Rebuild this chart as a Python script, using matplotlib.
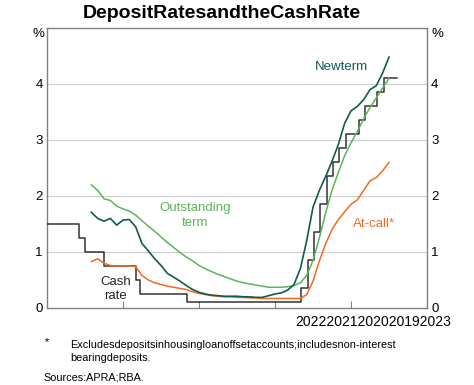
import matplotlib
matplotlib.use("Agg")
import matplotlib.pyplot as plt
import numpy as np

plt.rcParams['font.family'] = ['Liberation Sans', 'DejaVu Sans']

# ---- data ----
# monthly observations, end of month, Jul 2019 .. Jun 2023
months = [f"{y}-{m:02d}" for y in range(2019, 2024) for m in range(1, 13)
          if (y, m) >= (2019, 7) and (y, m) <= (2023, 6)]

outstanding_term = [2.20, 2.10, 1.95, 1.92, 1.82, 1.77,
                    1.73, 1.66, 1.56, 1.46, 1.37, 1.27, 1.17, 1.08, 0.99, 0.91, 0.84, 0.76,
                    0.70, 0.65, 0.60, 0.56, 0.52, 0.48, 0.45, 0.43, 0.41, 0.39, 0.37, 0.37,
                    0.37, 0.38, 0.40, 0.45, 0.58, 0.85, 1.25, 1.70, 2.10, 2.42, 2.72, 2.95,
                    3.15, 3.38, 3.58, 3.75, 3.93, 4.10]
new_term = [1.71, 1.60, 1.55, 1.60, 1.48, 1.57,
            1.58, 1.45, 1.15, 1.02, 0.88, 0.76, 0.62, 0.55, 0.48, 0.40, 0.33, 0.28,
            0.25, 0.23, 0.22, 0.21, 0.21, 0.21, 0.20, 0.20, 0.19, 0.19, 0.22, 0.25,
            0.27, 0.32, 0.42, 0.70, 1.20, 1.80, 2.10, 2.35, 2.62, 2.92, 3.30, 3.52,
            3.60, 3.72, 3.90, 3.97, 4.20, 4.48]
at_call = [0.83, 0.88, 0.80, 0.76, 0.75, 0.75,
           0.75, 0.74, 0.58, 0.50, 0.45, 0.42, 0.39, 0.37, 0.35, 0.33, 0.29, 0.26,
           0.24, 0.22, 0.21, 0.20, 0.20, 0.19, 0.19, 0.18, 0.18, 0.17, 0.17, 0.17,
           0.17, 0.17, 0.17, 0.17, 0.24, 0.48, 0.84, 1.15, 1.40, 1.58, 1.72, 1.85,
           1.93, 2.10, 2.27, 2.33, 2.45, 2.60]

# cash rate target changes (date, new rate)
cash_dates = ["2019-01-01", "2019-06-05", "2019-07-03", "2019-10-02", "2020-03-04",
              "2020-03-20", "2020-11-04", "2022-05-04", "2022-06-08", "2022-07-06",
              "2022-08-03", "2022-09-07", "2022-10-05", "2022-11-02", "2022-12-07",
              "2023-02-08", "2023-03-08", "2023-05-03", "2023-06-07", "2023-08-10"]
cash_rate = [1.50, 1.25, 1.00, 0.75, 0.50, 0.25, 0.10, 0.35, 0.85, 1.35,
             1.85, 2.35, 2.60, 2.85, 3.10, 3.35, 3.60, 3.85, 4.10, 4.10]

x_tick_years = [2020, 2021, 2022, 2023]
x_labels = ["2022", "2021", "2020", "2019", "2023"]
y_ticks = [0, 1, 2, 3, 4]

# ---- helpers ----
def month_end(s):
    y, m = s.split("-")
    return int(y) + int(m) / 12.0

def day_frac(s):
    y, m, d = s.split("-")
    return int(y) + (int(m) - 1) / 12.0 + (int(d) - 1) / 365.0

xm = np.array([month_end(s) for s in months])
xc = np.array([day_frac(s) for s in cash_dates])

# ---- figure ----
fig = plt.figure(figsize=(4.74, 3.85), dpi=100)
ax = fig.add_axes([47/474, 77/385, 380/474, 280/385])

C_NEW = "#0B5E50"
C_OUT = "#5BB55A"
C_CALL = "#F26A22"
C_CASH = "#333333"

for y in y_ticks[1:]:
    ax.axhline(y, color="#D0D0D0", lw=0.9, zorder=0)

ax.step(xc, cash_rate, where="post", color=C_CASH, lw=1.1, zorder=3)
ax.plot(xm, outstanding_term, color=C_OUT, lw=1.1, zorder=4)
ax.plot(xm, at_call, color=C_CALL, lw=1.1, zorder=4)
ax.plot(xm, new_term, color=C_NEW, lw=1.2, zorder=5)

ax.set_xlim(2019, 2024)
ax.set_ylim(0, 5)

for s in ax.spines.values():
    s.set_color("#808080")
    s.set_linewidth(1.0)

ax.set_xticks(x_tick_years)
ax.set_xticklabels([])
ax.tick_params(axis="x", direction="in", length=5, color="#808080")
ax.set_yticks(y_ticks)
ax.set_yticklabels([str(v) for v in y_ticks], fontsize=9.5)
ax.tick_params(axis="y", length=0, pad=3, labelright=True, labelleft=True)

# x labels as rendered in the reference
fig.text(373/474, 1 - 322/385, "".join(x_labels), ha="center", va="center", fontsize=10)

# % labels
fig.text(38/474, 1 - 34/385, "%", ha="center", va="center", fontsize=9.5)
fig.text(437/474, 1 - 34/385, "%", ha="center", va="center", fontsize=9.5)

# title
fig.text(222/474, 1 - 14/385, "DepositRatesandtheCashRate", ha="center", va="center",
         fontsize=14, fontweight="bold")

# series labels
ax.text(2022.88, 4.3, "Newterm", color=C_NEW, fontsize=9.5, ha="center", va="center")
ax.text(2020.95, 1.65, "Outstanding\nterm", color=C_OUT, fontsize=9.5, ha="center",
        va="center", linespacing=1.25)
ax.text(2023.3, 1.5, "At-call*", color=C_CALL, fontsize=9.5, ha="center", va="center")
ax.text(2019.9, 0.34, "Cash\nrate", color="#222222", fontsize=9.5, ha="center",
        va="center", linespacing=1.25)

# footnotes
fig.text(45/474, 1 - 342/385, "*", fontsize=7.8, ha="left", va="center")
fig.text(70/474, 1 - 345/385, "Excludesdepositsinhousingloanoffsetaccounts;includesnon-interest",
         fontsize=7.8, ha="left", va="center")
fig.text(70/474, 1 - 358/385, "bearingdeposits.", fontsize=7.8, ha="left", va="center")
fig.text(43/474, 1 - 378/385, "Sources:APRA;RBA.", fontsize=7.8, ha="left", va="center")

fig.savefig("out.png", dpi=100)
